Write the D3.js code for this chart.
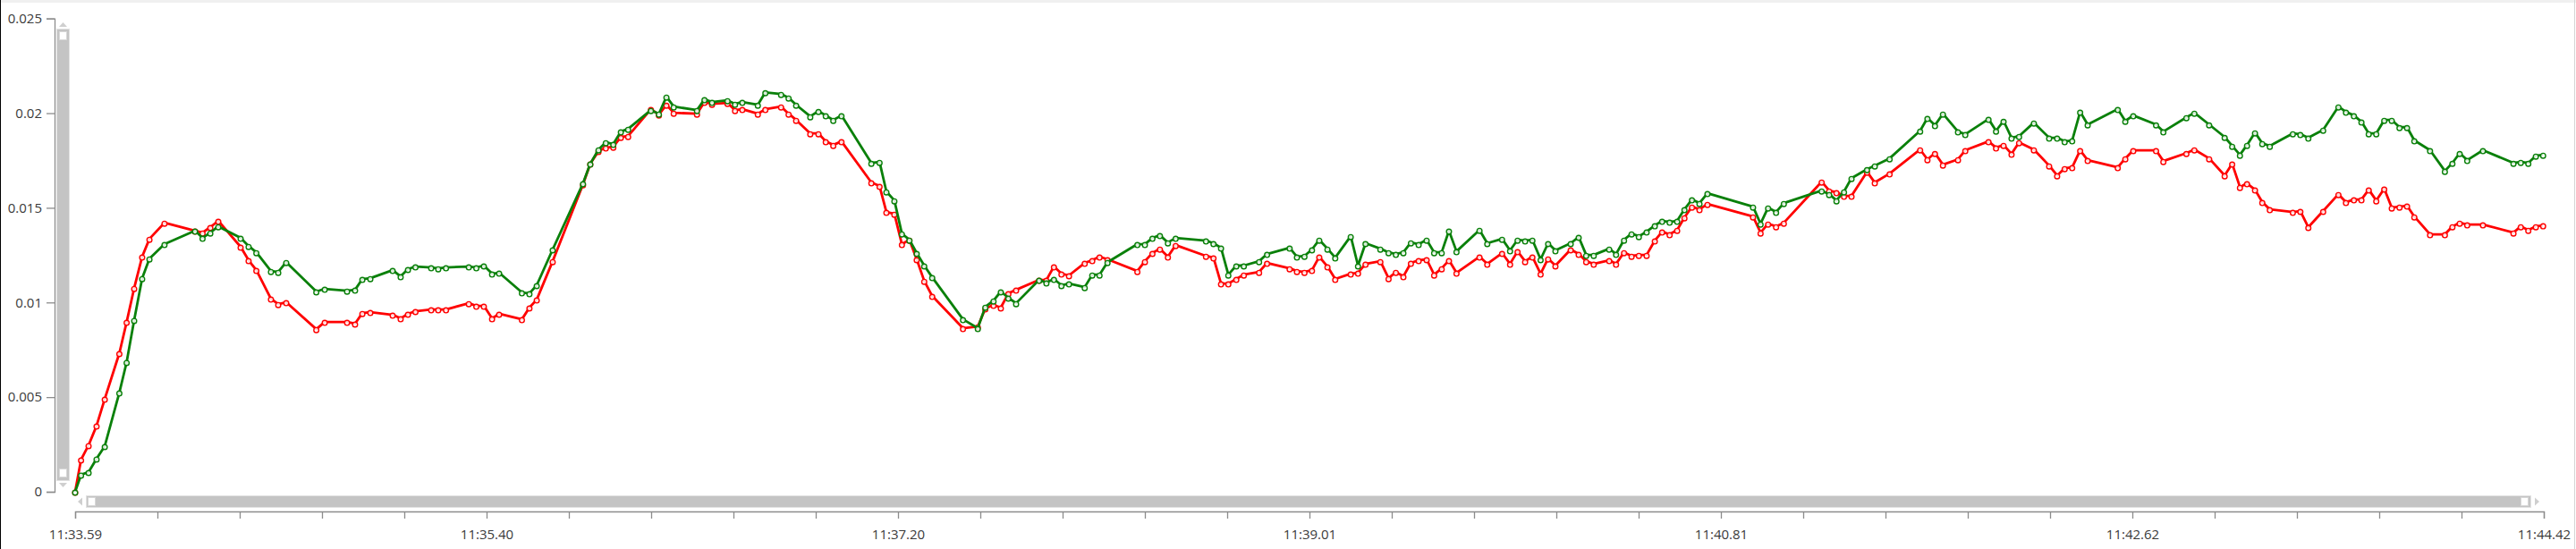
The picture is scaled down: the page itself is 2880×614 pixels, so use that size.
<!DOCTYPE html>
<html>
<head>
<meta charset="utf-8">
<script src="https://cdn.jsdelivr.net/npm/d3@7"></script>
<style>
  html, body { margin: 0; padding: 0; background: #fff; }
  svg { display: block; }
  text { font-family: "Open Sans", "Noto Sans", sans-serif; }
</style>
</head>
<body>
<svg id="chart" width="2880" height="614"></svg>
<script>
// time in seconds within minute 11 (11:33.59 .. 11:44.42)
const times = [
  33.590,33.616,33.649,33.684,33.720,33.784,33.816,33.849,33.884,33.916,
  33.982,34.116,34.149,34.183,34.218,34.316,34.351,34.385,34.449,34.481,
  34.516,34.648,34.685,34.783,34.818,34.850,34.885,34.983,35.018,35.050,
  35.083,35.152,35.183,35.217,35.317,35.350,35.383,35.419,35.450,35.550,
  35.583,35.615,35.685,35.818,35.850,35.886,35.918,35.951,35.984,36.016,
  36.116,36.151,36.184,36.216,36.318,36.351,36.384,36.452,36.485,36.517,
  36.585,36.618,36.687,36.720,36.753,36.815,36.851,36.883,36.916,36.952,
  37.083,37.119,37.149,37.184,37.217,37.250,37.282,37.315,37.350,37.485,
  37.550,37.583,37.619,37.651,37.684,37.718,37.819,37.851,37.884,37.917,
  37.950,38.019,38.052,38.084,38.119,38.250,38.283,38.316,38.349,38.384,
  38.418,38.551,38.584,38.617,38.649,38.684,38.717,38.784,38.819,38.918,
  38.950,38.983,39.016,39.048,39.084,39.118,39.186,39.218,39.251,39.316,
  39.352,39.384,39.417,39.450,39.484,39.519,39.552,39.585,39.617,39.650,
  39.751,39.785,39.850,39.885,39.918,39.951,39.983,40.019,40.052,40.084,
  40.151,40.186,40.219,40.252,40.320,40.350,40.385,40.418,40.450,40.484,
  40.520,40.552,40.585,40.618,40.650,40.683,40.716,40.751,40.951,40.984,
  41.017,41.052,41.086,41.252,41.285,41.317,41.350,41.383,41.451,41.485,
  41.550,41.684,41.716,41.749,41.784,41.850,41.882,41.984,42.017,42.050,
  42.085,42.118,42.183,42.250,42.285,42.318,42.351,42.386,42.419,42.551,
  42.584,42.619,42.719,42.751,42.852,42.887,42.952,43.020,43.053,43.087,
  43.118,43.153,43.185,43.218,43.319,43.352,43.387,43.452,43.519,43.552,
  43.587,43.620,43.652,43.685,43.720,43.753,43.787,43.820,43.852,43.921,
  43.986,44.019,44.051,44.084,44.153,44.287,44.319,44.352,44.385,44.417
];

const redValues = [
  0,0.00170,0.00246,0.00349,0.00491,0.00732,0.00897,0.01076,0.01242,0.01336,
  0.01421,0.01379,0.01369,0.01398,0.01431,0.01294,0.01223,0.01171,0.01020,0.00991,
  0.01001,0.00859,0.00897,0.00897,0.00888,0.00944,0.00949,0.00935,0.00916,0.00940,
  0.00954,0.00963,0.00963,0.00963,0.00996,0.00982,0.00982,0.00916,0.00940,0.00911,
  0.00973,0.01015,0.01218,0.01624,0.01733,0.01799,0.01818,0.01822,0.01874,0.01879,
  0.02021,0.01992,0.02044,0.02002,0.01997,0.02059,0.02049,0.02054,0.02016,0.02021,
  0.01997,0.02021,0.02035,0.01997,0.01964,0.01893,0.01893,0.01851,0.01832,0.01851,
  0.01634,0.01615,0.01478,0.01468,0.01308,0.01331,0.01228,0.01114,0.01034,0.00864,
  0.00873,0.00968,0.00987,0.00973,0.01048,0.01067,0.01119,0.01119,0.01190,0.01152,
  0.01143,0.01209,0.01223,0.01242,0.01228,0.01166,0.01218,0.01261,0.01284,0.01242,
  0.01303,0.01246,0.01237,0.01100,0.01100,0.01124,0.01147,0.01161,0.01209,0.01180,
  0.01166,0.01161,0.01171,0.01242,0.01190,0.01124,0.01152,0.01157,0.01204,0.01218,
  0.01128,0.01161,0.01138,0.01209,0.01223,0.01228,0.01147,0.01180,0.01223,0.01157,
  0.01242,0.01204,0.01261,0.01204,0.01270,0.01218,0.01242,0.01152,0.01232,0.01195,
  0.01280,0.01256,0.01218,0.01204,0.01223,0.01204,0.01265,0.01246,0.01251,0.01251,
  0.01327,0.01374,0.01360,0.01383,0.01449,0.01506,0.01492,0.01520,0.01454,0.01369,
  0.01416,0.01402,0.01421,0.01638,0.01591,0.01582,0.01563,0.01563,0.01690,0.01634,
  0.01681,0.01808,0.01756,0.01789,0.01728,0.01756,0.01804,0.01851,0.01818,0.01832,
  0.01785,0.01846,0.01808,0.01723,0.01671,0.01709,0.01714,0.01804,0.01752,0.01714,
  0.01761,0.01804,0.01804,0.01747,0.01789,0.01808,0.01761,0.01671,0.01733,0.01610,
  0.01629,0.01596,0.01530,0.01492,0.01478,0.01483,0.01398,0.01483,0.01572,0.01530,
  0.01544,0.01544,0.01596,0.01539,0.01601,0.01501,0.01506,0.01511,0.01454,0.01360,
  0.01360,0.01402,0.01421,0.01412,0.01412,0.01369,0.01402,0.01383,0.01402,0.01407
];

const greenValues = [
  0,0.00090,0.00104,0.00175,0.00241,0.00524,0.00685,0.00907,0.01128,0.01232,
  0.01308,0.01379,0.01341,0.01369,0.01402,0.01341,0.01298,0.01265,0.01166,0.01161,
  0.01213,0.01058,0.01072,0.01062,0.01067,0.01124,0.01128,0.01171,0.01138,0.01176,
  0.01190,0.01185,0.01180,0.01185,0.01190,0.01185,0.01195,0.01152,0.01157,0.01053,
  0.01048,0.01091,0.01280,0.01629,0.01733,0.01808,0.01846,0.01837,0.01903,0.01917,
  0.02016,0.01997,0.02087,0.02035,0.02016,0.02073,0.02059,0.02068,0.02049,0.02059,
  0.02044,0.02110,0.02101,0.02082,0.02044,0.01983,0.02011,0.01988,0.01964,0.01988,
  0.01737,0.01742,0.01586,0.01539,0.01364,0.01331,0.01261,0.01195,0.01133,0.00911,
  0.00864,0.00977,0.01010,0.01058,0.01025,0.00996,0.01119,0.01105,0.01124,0.01091,
  0.01100,0.01081,0.01147,0.01147,0.01213,0.01308,0.01308,0.01341,0.01355,0.01317,
  0.01341,0.01327,0.01313,0.01289,0.01147,0.01195,0.01195,0.01218,0.01256,0.01289,
  0.01242,0.01246,0.01280,0.01331,0.01284,0.01237,0.01350,0.01195,0.01313,0.01284,
  0.01265,0.01256,0.01265,0.01317,0.01308,0.01331,0.01265,0.01265,0.01379,0.01270,
  0.01383,0.01313,0.01336,0.01275,0.01331,0.01327,0.01331,0.01228,0.01313,0.01275,
  0.01313,0.01346,0.01251,0.01251,0.01284,0.01256,0.01331,0.01364,0.01350,0.01374,
  0.01407,0.01431,0.01426,0.01431,0.01492,0.01544,0.01525,0.01577,0.01506,0.01416,
  0.01501,0.01478,0.01525,0.01591,0.01572,0.01539,0.01586,0.01657,0.01704,0.01723,
  0.01761,0.01907,0.01974,0.01936,0.01997,0.01903,0.01889,0.01969,0.01907,0.01959,
  0.01870,0.01879,0.01950,0.01870,0.01870,0.01851,0.01856,0.02007,0.01940,0.02021,
  0.01959,0.01988,0.01940,0.01903,0.01978,0.02002,0.01940,0.01874,0.01827,0.01780,
  0.01832,0.01898,0.01841,0.01827,0.01893,0.01889,0.01870,0.01912,0.02035,0.02007,
  0.01988,0.01955,0.01893,0.01893,0.01964,0.01964,0.01926,0.01926,0.01856,0.01804,
  0.01695,0.01737,0.01789,0.01752,0.01804,0.01737,0.01742,0.01737,0.01775,0.01780
];

const yTickValues = [0, 0.005, 0.01, 0.015, 0.02, 0.025];
const yTickLabels = ["0", "0.005", "0.01", "0.015", "0.02", "0.025"];
const xLabels = ["11:33.59", "11:35.40", "11:37.20", "11:39.01", "11:40.81", "11:42.62", "11:44.42"];
const xStart = 33.59, xEnd = 44.42;
const minorPerLabel = 5;

const svg = d3.select("#chart");
const W = 2880, H = 614;

// frame
svg.append("rect").attr("x", 0).attr("y", 0).attr("width", W).attr("height", 3).attr("fill", "#f0f0f0");
svg.append("rect").attr("x", 0).attr("y", 0).attr("width", 1).attr("height", H).attr("fill", "#000");
svg.append("rect").attr("x", W - 2).attr("y", 0).attr("width", 1).attr("height", H).attr("fill", "#d4d4d4");

const x = d3.scaleLinear().domain([xStart, xEnd]).range([84, 2844]);
const y = d3.scaleLinear().domain([0, 0.025]).range([550, 20.7]);

const axisColor = "#8c8c8c";
const textColor = "#3a3a3a";

// Y axis
const yAxis = d3.axisLeft(y).tickValues(yTickValues)
  .tickFormat((d, i) => yTickLabels[i]).tickSizeOuter(0).tickSize(9).tickPadding(5);
const gy = svg.append("g").attr("transform", "translate(61,0)").call(yAxis);
gy.select(".domain").attr("stroke", axisColor).attr("stroke-width", 1.3);
gy.selectAll(".tick line").attr("stroke", axisColor).attr("stroke-width", 1.3);
gy.selectAll(".tick text").attr("fill", textColor).style("font-size", "15px")
  .style("font-family", "'Open Sans', sans-serif");

// X axis
const nTicks = (xLabels.length - 1) * minorPerLabel;
const xTickVals = d3.range(nTicks + 1).map(i => xStart + (xEnd - xStart) * i / nTicks);
const xAxis = d3.axisBottom(x).tickValues(xTickVals)
  .tickFormat((d, i) => (i % minorPerLabel === 0 ? xLabels[i / minorPerLabel] : ""))
  .tickSizeOuter(0).tickSize(8).tickPadding(12);
const gx = svg.append("g").attr("transform", "translate(0,572)").call(xAxis);
gx.select(".domain").attr("stroke", axisColor).attr("stroke-width", 1.3);
gx.selectAll(".tick line").attr("stroke", axisColor).attr("stroke-width", 1.3);
gx.selectAll(".tick text").attr("fill", textColor).style("font-size", "15px")
  .style("font-family", "'Open Sans', sans-serif");

// Vertical scrollbar
const vs = svg.append("g");
vs.append("rect").attr("x", 63.5).attr("y", 32.5).attr("width", 14).attr("height", 505)
  .attr("fill", "#c4c4c4").attr("stroke", "#e2e2e2").attr("stroke-width", 1);
vs.append("rect").attr("x", 66.5).attr("y", 35.5).attr("width", 8).attr("height", 9)
  .attr("fill", "#fff").attr("stroke", "#d8d8d8");
vs.append("rect").attr("x", 66.5).attr("y", 524.5).attr("width", 8).attr("height", 9)
  .attr("fill", "#fff").attr("stroke", "#d8d8d8");
vs.append("path").attr("d", "M66,30 L70.5,25 L75,30 Z").attr("fill", "#cfcfcf");
vs.append("path").attr("d", "M66,540 L70.5,545 L75,540 Z").attr("fill", "#cfcfcf");

// Horizontal scrollbar
const hs = svg.append("g");
hs.append("rect").attr("x", 96.5).attr("y", 554.5).attr("width", 2733).attr("height", 13)
  .attr("fill", "#c4c4c4").attr("stroke", "#e2e2e2").attr("stroke-width", 1);
hs.append("rect").attr("x", 98.5).attr("y", 556.5).attr("width", 8).attr("height", 9)
  .attr("fill", "#fff").attr("stroke", "#d8d8d8");
hs.append("rect").attr("x", 2818.5).attr("y", 556.5).attr("width", 8).attr("height", 9)
  .attr("fill", "#fff").attr("stroke", "#d8d8d8");
hs.append("path").attr("d", "M92,556.5 L87,561 L92,565.5 Z").attr("fill", "#cfcfcf");
hs.append("path").attr("d", "M2834,556.5 L2839,561 L2834,565.5 Z").attr("fill", "#cfcfcf");

// Series
const series = [
  { name: "red", values: redValues, color: "#ff0000" },
  { name: "green", values: greenValues, color: "#0a800a" }
];
const line = d3.line().x((d, i) => x(times[i])).y(d => y(d));

series.forEach(s => {
  const g = svg.append("g");
  g.append("path").datum(s.values).attr("d", line)
    .attr("fill", "none").attr("stroke", s.color).attr("stroke-width", 2.8)
    .attr("stroke-linejoin", "round");
  g.selectAll("circle").data(s.values).join("circle")
    .attr("cx", (d, i) => x(times[i])).attr("cy", d => y(d) + 1)
    .attr("r", 2.8).attr("fill", "#fff").attr("fill-opacity", 0.85)
    .attr("stroke", s.color).attr("stroke-width", 1.4);
});
</script>
</body>
</html>
